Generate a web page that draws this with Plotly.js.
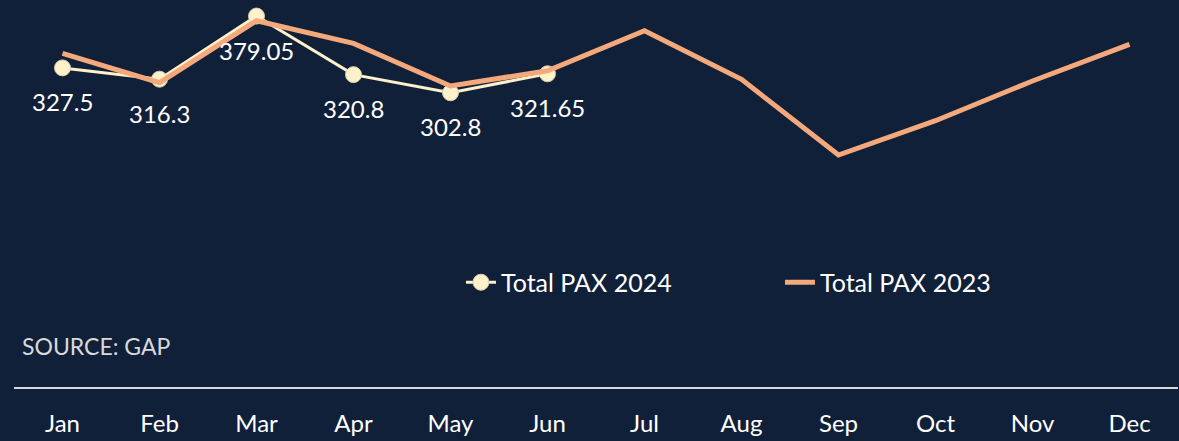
<!DOCTYPE html>
<html>
<head>
<meta charset="utf-8">
<script src="https://cdn.plot.ly/plotly-3.0.1.min.js"></script>
<style>
html,body{margin:0;padding:0;background:#112039;}
#chart{width:1179px;height:441px;}
</style>
</head>
<body>
<div id="chart"></div>
<script>
const months = ["Jan","Feb","Mar","Apr","May","Jun","Jul","Aug","Sep","Oct","Nov","Dec"];
const pax2024 = [327.5, 316.3, 379.05, 320.8, 302.8, 321.65];
const pax2024Labels = ["327.5","316.3","379.05","320.8","302.8","321.65"];
const pax2023 = [342, 312.8, 374.4, 351.9, 309.5, 324.7, 364.4, 316.1, 240.9, 275.0, 314.5, 350.9];
const sourceText = "SOURCE: GAP";

const FONT = "Lato, 'Open Sans', sans-serif";
const bg = "#112039";

const traces = [
  {
    x: months.slice(0, pax2024.length),
    y: pax2024,
    name: "Total PAX 2024",
    type: "scatter",
    mode: "lines+markers",
    line: {color: "#fdf1cc", width: 3},
    marker: {color: "#fdf1cc", size: 16, line: {color: "#d8ccaa", width: 1}},
    cliponaxis: false
  },
  {
    x: months,
    y: pax2023,
    name: "Total PAX 2023",
    type: "scatter",
    mode: "lines",
    line: {color: "#f4a97c", width: 5},
    cliponaxis: false
  }
];

const annotations = pax2024.map((v, i) => ({
  x: months[i], y: v, xref: "x", yref: "y",
  text: pax2024Labels[i], showarrow: false,
  yshift: -34,
  font: {family: FONT, size: 24, color: "#ffffff"}
}));
annotations.push({
  xref: "paper", yref: "paper", x: 0.005, y: 0.105,
  xanchor: "left", yanchor: "middle",
  text: sourceText, showarrow: false,
  font: {family: FONT, size: 23, color: "#d9d9d9"}
});

const layout = {
  width: 1179, height: 441,
  paper_bgcolor: bg, plot_bgcolor: bg,
  margin: {l: 14, r: 1, t: 0, b: 54},
  showlegend: true,
  legend: {
    orientation: "h",
    x: 0.384, y: 0.27, xanchor: "left", yanchor: "middle",
    bgcolor: "rgba(0,0,0,0)",
    font: {family: FONT, size: 25, color: "#ffffff"},
    entrywidth: 274, entrywidthmode: "pixels",
    itemclick: false
  },
  xaxis: {
    type: "category",
    range: [-0.5, 11.5],
    showgrid: false, zeroline: false,
    showline: true, linecolor: "#d9d9d9", linewidth: 1.5,
    ticks: "", ticklabelstandoff: 15,
    tickfont: {family: FONT, size: 24, color: "#ffffff"},
    fixedrange: true
  },
  yaxis: {
    range: [10.3, 395],
    visible: false, showgrid: false, zeroline: false,
    fixedrange: true
  },
  annotations: annotations,
  font: {family: FONT}
};

Plotly.newPlot("chart", traces, layout, {displayModeBar: false, staticPlot: true});
</script>
</body>
</html>
